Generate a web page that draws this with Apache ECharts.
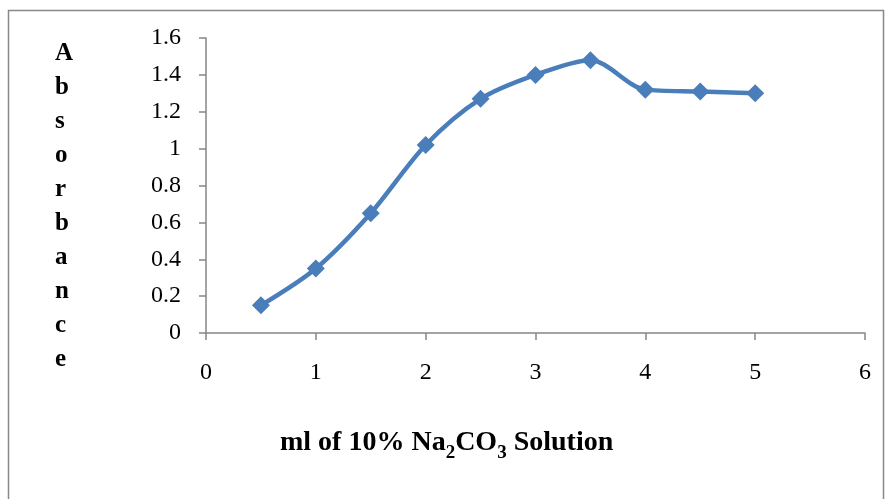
<!DOCTYPE html>
<html><head><meta charset="utf-8">
<script src="https://cdn.jsdelivr.net/npm/echarts@6/dist/echarts.min.js"></script>
<style>html,body{margin:0;padding:0;background:#fff}#c{width:887px;height:499px}</style>
</head><body><div id="c"></div>
<script>
const xValues = [0.5, 1, 1.5, 2, 2.5, 3, 3.5, 4, 4.5, 5];
const absorbance = [0.15, 0.35, 0.65, 1.02, 1.27, 1.40, 1.48, 1.32, 1.31, 1.30];
const yLabelLetters = ['A','b','s','o','r','b','a','n','c','e'];

const chart = echarts.init(document.getElementById('c'));
const serif = '"Liberation Serif", "Times New Roman", serif';
chart.setOption({
  animation: false,
  backgroundColor: '#fff',
  grid: {left: 206, right: 22, top: 38, bottom: 166},
  xAxis: {
    type: 'value', min: 0, max: 6, interval: 1,
    axisLine: {lineStyle: {color: '#868686', width: 1.5}},
    axisTick: {show: true, length: 7, lineStyle: {color: '#868686', width: 1.5}},
    axisLabel: {color: '#000', fontFamily: serif, fontSize: 24, margin: 28},
    splitLine: {show: false}
  },
  yAxis: {
    type: 'value', min: 0, max: 1.6, interval: 0.2,
    axisLine: {show: true, lineStyle: {color: '#868686', width: 1.5}},
    axisTick: {show: true, length: 7, lineStyle: {color: '#868686', width: 1.5}},
    axisLabel: {color: '#000', fontFamily: serif, fontSize: 24, margin: 25,
      formatter: v => String(Math.round(v * 10) / 10)},
    splitLine: {show: false}
  },
  series: [{
    type: 'line', smooth: 0.3,
    data: xValues.map((x, i) => [x, absorbance[i]]),
    symbol: 'diamond', symbolSize: 18,
    lineStyle: {color: '#4a7ebb', width: 4.5},
    itemStyle: {color: '#4a7ebb'}
  }],
  graphic: [
    {type: 'rect', shape: {x: 8.5, y: 10.5, width: 875, height: 520},
      style: {fill: 'none', stroke: '#888', lineWidth: 1.5}},
    {type: 'text', left: 55, top: 37, style: {
      text: yLabelLetters.join('\n'), fontFamily: serif, fontWeight: 'bold',
      fontSize: 25, lineHeight: 33.9, fill: '#000', align: 'center'}},
    {type: 'text', left: 280, top: 429, style: {
      text: '{a|ml of 10% Na}{s|2}{a|CO}{s|3}{a| Solution}',
      rich: {
        a: {fontFamily: serif, fontWeight: 'bold', fontSize: 28, fill: '#000', verticalAlign: 'bottom'},
        s: {fontFamily: serif, fontWeight: 'bold', fontSize: 19, fill: '#000', padding: [0,0,-6,0], verticalAlign: 'bottom'}
      }}}
  ]
});
</script></body></html>
